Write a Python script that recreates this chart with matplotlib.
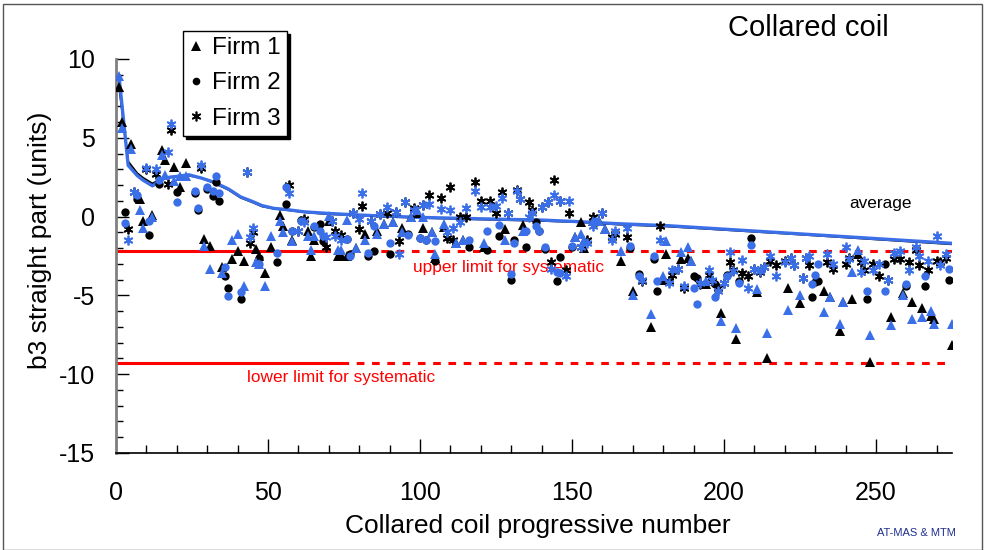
import matplotlib
matplotlib.use("Agg")
import matplotlib.pyplot as plt
from matplotlib.patches import Rectangle
from matplotlib.ticker import MultipleLocator

plt.rcParams['font.family'] = ['Liberation Sans', 'DejaVu Sans']
plt.rcParams['axes.unicode_minus'] = False

BLUE = '#3b6fe8'
RED = '#ff0000'

# Firm 1 (triangles): coil number, black value, blue value
f1_x = [1, 2, 5, 8, 9, 12, 15, 16, 19, 21, 23, 29, 31, 35, 38, 40, 42, 46, 47, 49,
        51, 54, 55, 58, 63, 64, 65, 70, 73, 74, 76, 79, 82, 86, 88, 91, 94, 97, 99, 101,
        104, 105, 108, 112, 114, 121, 128, 134, 151, 153, 154, 157, 159, 161, 166, 170,
        176, 180, 181, 186, 188, 189, 194, 199, 204, 211, 214, 221, 225, 233, 235, 238,
        239, 242, 244, 248, 255, 259, 262, 265, 268, 269, 275]
f1_k = [8.2, 6.0, 4.6, 1.1, -0.3, 0.1, 4.2, 3.6, 3.15, 1.9, 3.4, -1.4, -1.85, -3.2, -2.7,
        -2.2, -2.8, -2.05, -2.5, -3.55, -1.9, 0.1, -0.6, -1.5, -0.9, -2.5, -1.5, -0.25,
        -2.5, -2.45, -2.5, -2.0, -1.1, -0.9, -0.5, -0.35, -0.7, 0.0, 0.2, -0.7, -1.0, -2.6,
        -0.65, -1.7, -1.5, -1.9, -0.8, -0.55, -1.3, -0.35, -2.0, -0.3, -0.3, -0.8, -2.8,
        -4.7, -7.0, -4.0, -2.4, -2.7, -2.6, -2.8, -4.3, -6.1, -7.75, -4.8, -8.95, -4.55,
        -5.5, -4.7, -5.1, -7.25, -5.4, -5.2, -2.4, -9.2, -6.4, -4.85, -5.45, -5.8, -6.3,
        -6.5, -8.15]
f1_c = [8.9, 5.6, 4.3, 0.45, -0.7, 0.0, 3.9, 2.65, 2.25, 2.6, 2.6, -1.85, -3.3, -3.55, -1.5,
        -1.1, -4.4, -2.9, -3.0, -4.4, -1.2, -0.3, -1.0, -1.55, -1.2, -2.1, -1.2, 0.05,
        -2.1, -2.15, -0.2, -2.0, -1.5, -1.1, -0.47, -0.35, -0.95, 0.0, 0.4, 0.0, -1.0, -2.4,
        -0.5, -1.7, -1.5, -1.65, -1.5, -0.9, -1.3, -1.1, -1.5, -0.3, -0.3, -0.8, -2.2,
        -5.0, -6.2, -3.8, -1.55, -2.25, -1.95, -2.8, -4.1, -6.6, -7.05, -4.6, -7.4, -5.95,
        -5.0, -6.05, -5.1, -6.8, -5.4, -3.5, -2.1, -7.5, -6.9, -4.95, -6.5, -6.4, -6.0,
        -6.8, -6.8]

# Firm 2 (circles)
f2_x = [3, 7, 11, 14, 20, 26, 27, 30, 32, 33, 34, 36, 37, 41, 47, 53, 56, 58, 61, 65,
        67, 68, 76, 77, 83, 85, 90, 96, 100, 102, 105, 116, 122, 126, 130, 131, 135, 138,
        139, 141, 145, 146, 150, 158, 169, 172, 177, 178, 190, 191, 197, 201, 205, 209,
        229, 230, 231, 247, 253, 260, 266, 274]
f2_k = [0.3, 1.1, -1.15, 2.1, 1.55, 1.5, 0.4, 1.75, 1.3, 2.2, 1.0, -3.8, -4.55, -5.2, -2.6,
        -2.9, 0.8, -0.9, -0.2, -0.65, -0.5, -1.55, -1.45, -2.4, -2.5, -2.2, -2.35, -1.1,
        -1.35, -1.5, -2.8, -1.95, -2.1, -1.2, -4.0, -1.5, -1.9, -0.35, -0.9, -2.05, -4.1,
        -2.55, -1.9, -0.35, -2.0, -3.65, -2.7, -4.7, -3.8, -3.9, -4.3, -3.7, -4.1, -1.38,
        -5.1, -4.15, -4.1, -5.2, -3.0, -4.4, -4.4, -4.05]
f2_c = [-0.4, 1.35, -0.25, 2.3, 0.95, 1.65, 0.55, 1.85, 1.6, 2.55, 1.5, -3.2, -5.05, -4.8,
        -3.0, -2.3, 1.9, -0.9, -0.25, -0.6, -0.9, -1.2, -1.4, -2.5, -2.3, -0.57, -1.65,
        -1.15, -1.35, -1.5, -1.55, -1.5, -0.9, -0.55, -3.65, -1.7, -0.9, -0.6, -0.9, -1.9,
        -3.5, -3.55, -1.85, -0.3, -1.85, -3.8, -2.5, -4.1, -4.55, -5.55, -5.1, -3.8, -4.2,
        -1.78, -4.3, -3.7, -3.0, -4.75, -4.75, -4.3, -3.75, -3.35]

# Firm 3 (stars)
f3_x = [4, 6, 10, 13, 17, 18, 28, 43, 44, 45, 57, 60, 62, 69, 71, 72, 74, 78, 80, 81,
        84, 87, 89, 92, 93, 95, 98, 101, 103, 107, 109, 110, 111, 113, 115, 118, 120, 123,
        125, 127, 129, 132, 133, 136, 137, 140, 142, 143, 144, 146, 148, 149, 153, 155,
        157, 160, 163, 164, 168, 173, 179, 182, 183, 185, 187, 192, 195, 196, 198, 200,
        202, 203, 206, 208, 210, 212, 213, 215, 217, 220, 222, 223, 226, 227, 228, 234,
        236, 240, 241, 245, 246, 249, 251, 254, 256, 258, 261, 263, 264, 267, 270, 271, 273]
f3_k = [-0.8, 1.55, 3.0, 2.7, 2.1, 5.5, 3.1, 2.8, -1.7, -1.0, 2.0, -0.9, -0.15, -1.95, -0.3,
        -0.9, -1.15, 0.2, -0.8, 0.7, -0.25, 0.15, 0.2, 0.3, -1.55, 0.9, 0.55, 0.75, 1.35,
        1.15, -1.35, 1.9, -1.5, 0.0, 0.0, 2.2, 1.0, 1.0, 0.2, 1.55, 0.25, 1.7, 1.1, 0.9,
        0.45, 0.6, 0.95, -2.9, 2.35, 1.0, -3.4, 0.2, -1.9, -1.5, 0.0, 0.2, -1.3, -1.1, -1.3,
        -4.1, -0.6, -4.1, -3.7, -3.3, -4.5, -4.3, -3.7, -4.1, -4.5, -4.2, -2.9, -3.4, -3.55,
        -3.8, -3.3, -3.5, -3.2, -2.8, -3.1, -2.8, -2.6, -3.1, -3.9, -2.6, -3.1, -2.9, -3.3,
        -3.0, -2.6, -2.9, -3.4, -3.0, -3.75, -4.0, -2.7, -2.7, -2.9, -2.1, -3.1, -3.4, -2.8,
        -2.9, -2.6]
f3_c = [-1.5, 1.55, 3.1, 3.05, 4.1, 5.9, 3.25, 2.85, -1.3, -0.75, 1.5, -0.9, -0.35, -1.3,
        -0.3, -1.2, -1.5, 0.2, -0.15, 1.5, -0.25, 0.15, 0.6, 0.3, -2.35, 0.9, 0.4, 0.75, 0.8,
        0.5, -0.95, 0.45, -0.7, -0.35, 0.55, 1.6, 0.6, 0.6, 0.7, 1.15, 0.25, 1.6, 1.1,
        -0.05, 0.25, 0.6, 0.95, -3.35, 1.35, 1.0, -3.8, 1.0, -1.9, -1.7, -0.6, 0.2, -1.5,
        -0.9, -0.7, -4.0, -1.5, -4.2, -3.4, -3.3, -4.4, -4.2, -3.4, -4.0, -4.7, -4.2, -2.27,
        -3.45, -2.75, -4.5, -3.3, -3.45, -3.2, -2.5, -3.8, -2.9, -2.6, -3.1, -3.9, -2.6,
        -2.5, -2.4, -3.0, -1.9, -2.7, -3.5, -2.8, -3.4, -3.0, -4.0, -2.3, -2.2, -3.4, -1.9,
        -2.5, -2.8, -1.2, -3.1, -2.4]

# running averages
avg_x = [1, 4, 7, 9, 12, 16, 20, 24, 28, 32, 37, 41, 45, 48, 52, 56, 62, 70, 78, 86,
         100, 120, 140, 152, 165, 181, 222, 277]
avg_blue = [8.9, 3.25, 2.6, 2.3, 1.95, 2.45, 2.55, 2.65, 2.45, 2.2, 1.75, 1.25, 0.95, 0.7,
            0.52, 0.45, 0.3, 0.2, 0.12, 0.05, -0.05, -0.14, -0.22, -0.32, -0.45, -0.57,
            -1.06, -1.72]
avg_black = [8.3, 3.5, 2.75, 2.45, 2.1, 2.5, 2.55, 2.6, 2.45, 2.15, 1.7, 1.2, 0.9, 0.65,
             0.5, 0.42, 0.28, 0.15, 0.1, 0.02, -0.08, -0.18, -0.27, -0.35, -0.5, -0.62,
             -1.1, -1.78]

# limits for systematic
upper_limit = -2.2
lower_limit = -9.3
upper_solid_end = 70
lower_solid_end = 74
x_end = 277

fig = plt.figure(figsize=(9.86, 5.5), dpi=100)
ax = fig.add_axes([116 / 986, 1 - 453 / 550, 836 / 986, 394 / 550])

# limit lines
ax.plot([0.5, upper_solid_end], [upper_limit, upper_limit], color=RED, lw=2.2, zorder=1)
ax.plot([upper_solid_end + 2, x_end], [upper_limit, upper_limit], color=RED, lw=2.2,
        ls=(0, (2.5, 2.5)), zorder=1)
ax.plot([0.5, lower_solid_end], [lower_limit, lower_limit], color=RED, lw=2.2, zorder=1)
ax.plot([lower_solid_end, x_end], [lower_limit, lower_limit], color=RED, lw=2.2,
        ls=(0, (2.5, 2.5)), zorder=1)

# averages (black thin line under the thicker blue one)
ax.plot(avg_x, avg_black, color='black', lw=1.4, zorder=2)
ax.plot(avg_x, avg_blue, color=BLUE, lw=2.4, zorder=3)

star = (6, 2, 0)
for col in ['black', BLUE]:
    k = col == 'black'
    ax.plot(f1_x, f1_k if k else f1_c, ls='none', marker='^', ms=6.5, color=col, mew=0, zorder=4)
    ax.plot(f2_x, f2_k if k else f2_c, ls='none', marker='o', ms=6, color=col, mew=0, zorder=4)
    ax.plot(f3_x, f3_k if k else f3_c, ls='none', marker=star, ms=7, color=col, mew=1.3, zorder=4)

ax.set_xlim(0, 275)
ax.set_ylim(-15, 10)
ax.xaxis.set_major_locator(MultipleLocator(50))
ax.xaxis.set_minor_locator(MultipleLocator(10))
ax.yaxis.set_major_locator(MultipleLocator(5))
ax.yaxis.set_minor_locator(MultipleLocator(1))
ax.tick_params(which='both', direction='in', width=1, colors='black', labelsize=18)
ax.tick_params(axis='x', which='major', length=10, pad=20)
ax.tick_params(axis='x', which='minor', length=6)
ax.tick_params(axis='y', which='major', length=9, pad=15)
ax.tick_params(axis='y', which='minor', length=5)
for s in ['top', 'right']:
    ax.spines[s].set_visible(False)
ax.spines['left'].set_color('#808080')
ax.spines['left'].set_linewidth(2)
ax.spines['bottom'].set_linewidth(1.2)

ax.set_xlabel('Collared coil progressive number', fontsize=19)
ax.set_ylabel('b3 straight part (units)', fontsize=19)
ax.xaxis.set_label_coords(0.504, -0.155)
ax.yaxis.set_label_coords(-0.076, 0.54)

ax.text(251.5, 0.85, 'average', fontsize=12.4, ha='center', va='center')
ax.text(129, -3.25, 'upper limit for systematic', fontsize=12.4, color=RED,
        ha='center', va='center')
ax.text(74, -10.2, 'lower limit for systematic', fontsize=12.4, color=RED,
        ha='center', va='center')

fig.text(808 / 986, 1 - 28 / 550, 'Collared coil', fontsize=21, ha='center', va='center')
fig.text(916 / 986, 1 - 533 / 550, 'AT-MAS & MTM', fontsize=8, color='#1f2f8f',
         ha='center', va='center')

# legend with black markers
h1, = ax.plot([], [], ls='none', marker='^', ms=7, color='black', mew=0)
h2, = ax.plot([], [], ls='none', marker='o', ms=5.5, color='black', mew=0)
h3, = ax.plot([], [], ls='none', marker=star, ms=7, color='black', mew=1.2)
leg = ax.legend([h1, h2, h3], ['Firm 1', 'Firm 2', 'Firm 3'], loc='upper left',
                bbox_to_anchor=(183 / 986, 1 - 31 / 550), bbox_transform=fig.transFigure,
                fontsize=17.5, frameon=True, fancybox=False, shadow={'color': 'black', 'alpha': 1},
                handlelength=0.6, handletextpad=0.35, borderpad=0.25, labelspacing=0.55,
                borderaxespad=0)
leg.get_frame().set_edgecolor('black')
leg.get_frame().set_linewidth(1)
leg.get_frame().set_alpha(1)

fig.patches.append(Rectangle((3 / 986, 0), 979 / 986, 1 - 4 / 550, transform=fig.transFigure,
                             fill=False, edgecolor='#555555', lw=1))

fig.savefig('out.png', dpi=100)
